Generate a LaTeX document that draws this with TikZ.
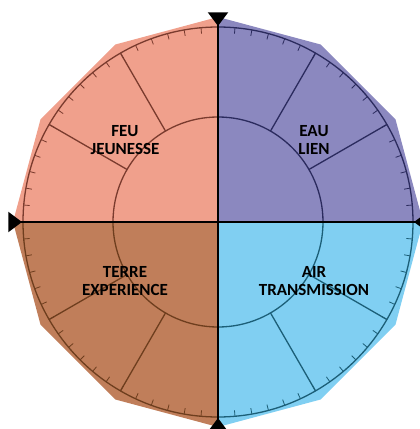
\documentclass[tikz,border=0pt]{standalone}
\usepackage{fontspec}
\setmainfont{Carlito}
\usetikzlibrary{positioning}
\definecolor{feu}{HTML}{F0A08C}
\definecolor{feuline}{HTML}{7A3B2E}
\definecolor{eau}{HTML}{8B88BF}
\definecolor{eauline}{HTML}{2B2B5E}
\definecolor{terre}{HTML}{C07E5A}
\definecolor{terreline}{HTML}{6E3E1E}
\definecolor{air}{HTML}{80CFF2}
\definecolor{airline}{HTML}{1C5F78}

\begin{document}
\begin{tikzpicture}[x=1pt,y=1pt,
  elemtext/.style={align=center, font=\bfseries\fontsize{17}{18}\selectfont},
  axis/.style={line width=2.5pt, black}]
\useasboundingbox (-218,-207) rectangle (202,222);
\foreach \q/\fc/\lc in {0/eau/eauline, 90/feu/feuline, 180/terre/terreline, 270/air/airline} {
  \fill[\fc] (0,0) -- (\q:205) -- (\q+30:205) -- (\q+60:205) -- (\q+90:205) -- cycle;
  \draw[\lc, line width=1.3pt] (\q:195) arc[start angle=\q, end angle=\q+90, radius=195];
  \draw[\lc, line width=1.3pt] (\q:105) arc[start angle=\q, end angle=\q+90, radius=105];
  \draw[\lc, line width=1.3pt] (\q+30:105) -- (\q+30:195);
  \draw[\lc, line width=1.3pt] (\q+60:105) -- (\q+60:195);
  \foreach \t in {5,10,...,85}
    \draw[\lc, line width=0.8pt] (\q+\t:195) -- (\q+\t:189);
}
\draw[axis] (0,-209) -- (0,209);
\draw[axis] (-209,0) -- (209,0);
\foreach \a in {0,90,180,270}
  \fill[black] (\a:196) -- (\a+2.8:210) -- (\a-2.8:210) -- cycle;
\node[elemtext] (feu) at (-93,82) {FEU\\JEUNESSE};
\node[elemtext] (eau) at (96,82) {EAU\\LIEN};
\node[elemtext] (terre) at (-93,-59) {TERRE\\EXPERIENCE};
\node[elemtext] (air) at (96,-59) {AIR\\TRANSMISSION};
\end{tikzpicture}
\end{document}
